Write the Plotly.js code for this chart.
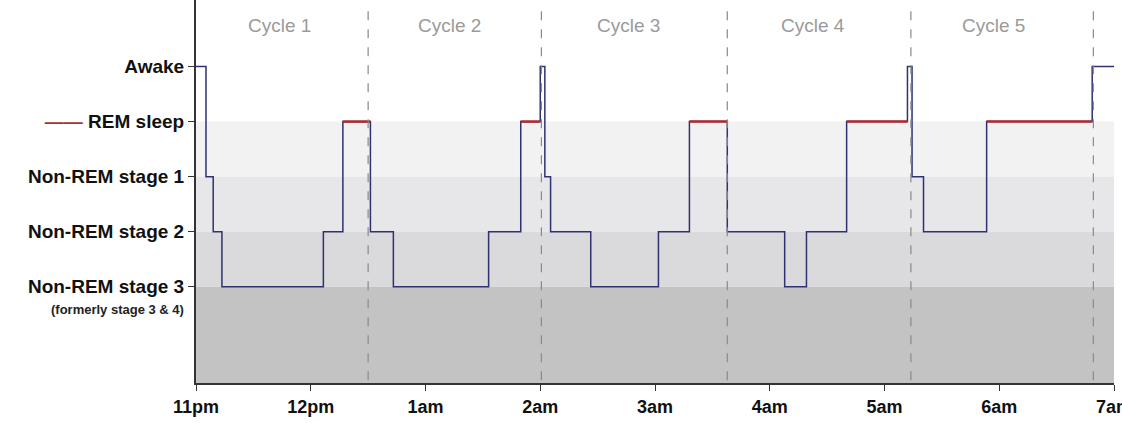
<!DOCTYPE html>
<html>
<head>
<meta charset="utf-8">
<script src="https://cdn.plot.ly/plotly-3.0.1.min.js"></script>
<style>body{margin:0;background:#fff}#plot{width:1122px;height:423px}</style>
</head>
<body>
<div id="plot"></div>
<script>
// hours after 11pm, and stage (5 awake, 4 REM, 3..1 non-REM)
var hours = [0, 0.087, 0.15, 0.226, 1.11, 1.28, 1.52, 1.72, 2.55, 2.83, 3.0, 3.04, 3.09, 3.44, 4.03, 4.30, 4.63, 5.13, 5.32, 5.67, 6.2, 6.24, 6.34, 6.89, 7.81, 8.0];
var stages = [5, 3, 2, 1, 2, 4, 2, 1, 2, 4, 5, 3, 2, 1, 2, 4, 2, 1, 2, 4, 5, 3, 2, 4, 5, 5];
var cycleBounds = [1.5, 3.01, 4.63, 6.23, 7.82];
var cycleNames = ["Cycle 1", "Cycle 2", "Cycle 3", "Cycle 4", "Cycle 5"];
var cycleCenters = [0.73, 2.21, 3.77, 5.38, 6.95];
var tickHours = [0, 1, 2, 3, 4, 5, 6, 7, 8];
var tickNames = ["11pm", "12pm", "1am", "2am", "3am", "4am", "5am", "6am", "7am"];
var stageVals = [5, 4, 3, 2, 1];
var stageNames = ["Awake", "<span style='color:#a83232'>—— </span>REM sleep", "Non-REM stage 1", "Non-REM stage 2", "Non-REM stage 3"];

var font = "Liberation Sans Narrow, Arial Narrow, Liberation Sans, Arial";
var traces = [{
  x: hours, y: stages, mode: "lines", line: {shape: "hv", color: "#2e3272", width: 1.5},
  hoverinfo: "skip", showlegend: false
}];
// red overlay on REM steps
for (var i = 0; i < stages.length - 1; i++) {
  if (stages[i] == 4) {
    traces.push({x: [hours[i], hours[i + 1]], y: [4, 4], mode: "lines",
      line: {color: "#b02a2a", width: 2.5}, hoverinfo: "skip", showlegend: false});
  }
}

var shapes = [
  {type: "rect", xref: "x", yref: "y", x0: 0, x1: 8.0, y0: 3, y1: 4, fillcolor: "#f3f2f3", line: {width: 0}, layer: "below"},
  {type: "rect", xref: "x", yref: "y", x0: 0, x1: 8.0, y0: 2, y1: 3, fillcolor: "#e7e6e8", line: {width: 0}, layer: "below"},
  {type: "rect", xref: "x", yref: "y", x0: 0, x1: 8.0, y0: 1, y1: 2, fillcolor: "#dad9db", line: {width: 0}, layer: "below"},
  {type: "rect", xref: "x", yref: "y", x0: 0, x1: 8.0, y0: -0.75, y1: 1, fillcolor: "#c3c3c4", line: {width: 0}, layer: "below"}
];
cycleBounds.forEach(function (b) {
  shapes.push({type: "line", xref: "x", yref: "y", x0: b, x1: b, y0: -0.7, y1: 6.05,
    line: {color: "#8a8a8a", width: 1.2, dash: "dash"}});
});

var annotations = cycleNames.map(function (n, k) {
  return {x: cycleCenters[k], y: 5.75, xref: "x", yref: "y", text: n, showarrow: false,
    font: {family: font, size: 19, color: "#9a9a9a"}};
});
annotations.push({x: 0, y: 0.58, xref: "x", yref: "y", xanchor: "right", xshift: -10,
  text: "(formerly stage 3 &amp; 4)", showarrow: false,
  font: {family: font, size: 13, color: "#222", weight: "bold"}});

Plotly.newPlot("plot", traces, {
  width: 1122, height: 423,
  margin: {l: 196, r: 8, t: 0, b: 40},
  paper_bgcolor: "#fff", plot_bgcolor: "#fff",
  xaxis: {range: [0, 8.0], tickvals: tickHours, ticktext: tickNames, showgrid: false, zeroline: false,
    showline: true, linecolor: "#333", linewidth: 2, ticks: "outside", ticklen: 6, tickcolor: "#333",
    ticklabeloverflow: "allow",
    tickfont: {family: font, size: 18, color: "#111", weight: "bold"}},
  yaxis: {range: [-0.75, 6.21], tickvals: stageVals, ticktext: stageNames, showgrid: false, zeroline: false,
    showline: true, linecolor: "#333", linewidth: 2, ticks: "outside", ticklen: 6, tickcolor: "#333",
    tickfont: {family: font, size: 19, color: "#111", weight: "bold"}},
  shapes: shapes, annotations: annotations
}, {displayModeBar: false, staticPlot: true});
</script>
</body>
</html>
